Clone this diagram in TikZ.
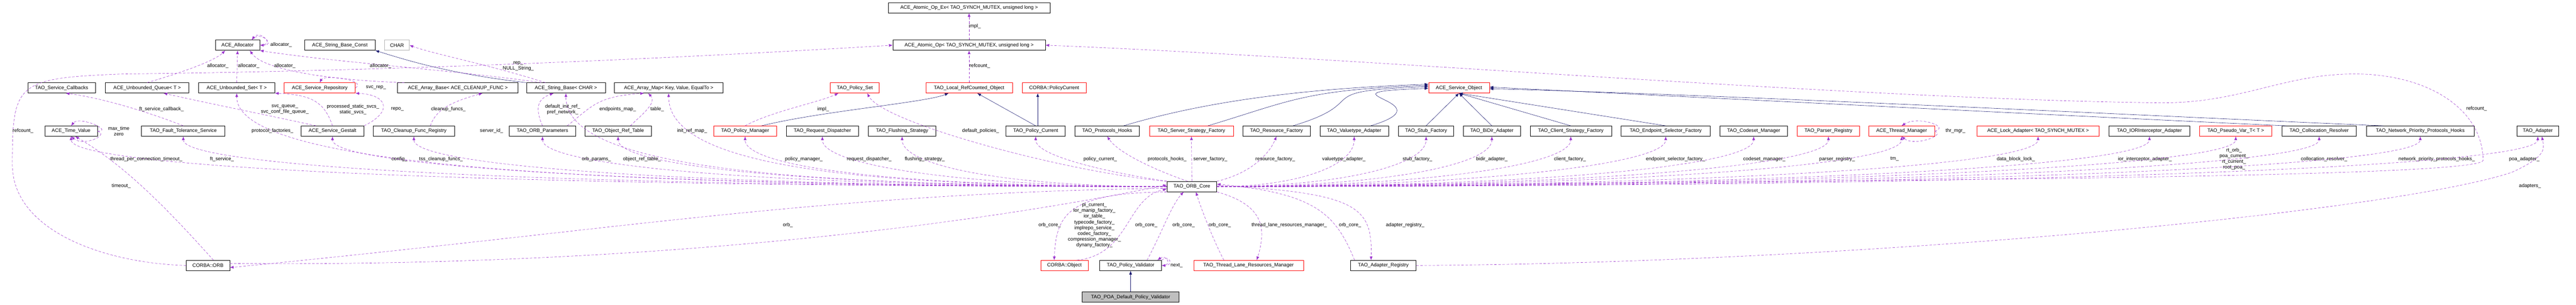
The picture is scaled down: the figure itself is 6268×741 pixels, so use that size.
\documentclass[tikz,border=0pt]{standalone}
\usepackage{fontspec}
\setmainfont{Liberation Sans}
\usetikzlibrary{arrows.meta,calc}
\definecolor{usec}{HTML}{9A32CD}
\definecolor{inh}{HTML}{191970}
\newcommand\bx[6]{\node[box,#1,minimum width=#5pt] (#2) at (#3,#4) {#6};}
\newcommand\lb[4]{\node[lbl] (#1) at (#2,#3) {#4};}
\newcommand\ce[4]{\draw[use] (core.#3) .. controls +(#2,0) and +(0,#4) .. (#1.south);}
\begin{document}
\begin{tikzpicture}[x=1pt,y=-1pt,
 box/.style={draw=black,line width=0.8pt,fill=white,minimum height=25pt,inner sep=1pt,font=\fontsize{12}{14}\selectfont},
 redb/.style={draw=red},
 grayb/.style={draw=black!30},
 lbl/.style={font=\fontsize{12}{14}\selectfont,align=center,inner sep=0pt},
 use/.style={draw=usec,dashed,dash pattern=on 6pt off 4pt,line width=0.7pt,-{Latex[length=9pt,width=7pt]}},
 inhe/.style={draw=inh,line width=0.7pt,-{Latex[length=9pt,width=7pt]}}]
\useasboundingbox (0,0) rectangle (6268,741);
% row 0/1
\bx{}{atomicex}{2358}{19}{394}{ACE\_Atomic\_Op\_Ex< TAO\_SYNCH\_MUTEX, unsigned long >}
\bx{}{alloc}{578}{110}{108}{ACE\_Allocator}
\bx{}{sbconst}{827}{110}{172}{ACE\_String\_Base\_Const}
\bx{grayb}{char}{966}{110}{60}{CHAR}
\bx{}{atomic}{2358}{110}{371}{ACE\_Atomic\_Op< TAO\_SYNCH\_MUTEX, unsigned long >}
% row 2
\bx{}{svccb}{150}{214}{165}{TAO\_Service\_Callbacks}
\bx{}{uqueue}{358}{214}{203}{ACE\_Unbounded\_Queue< T >}
\bx{}{uset}{576}{214}{185}{ACE\_Unbounded\_Set< T >}
\bx{redb}{svcrep}{778}{214}{173}{ACE\_Service\_Repository}
\bx{}{arrbase}{1114}{214}{293}{ACE\_Array\_Base< ACE\_CLEANUP\_FUNC >}
\bx{}{sbchar}{1377}{214}{192}{ACE\_String\_Base< CHAR >}
\bx{}{arrmap}{1627}{214}{264}{ACE\_Array\_Map< Key, Value, EqualTo >}
\bx{redb}{polset}{2080}{214}{119}{TAO\_Policy\_Set}
\bx{redb}{localrc}{2358}{214}{211}{TAO\_Local\_RefCounted\_Object}
\bx{redb}{polcur}{2565}{214}{156}{CORBA::PolicyCurrent}
\bx{redb}{svcobj}{3550}{214}{148}{ACE\_Service\_Object}
% row 3
\bx{}{timeval}{173}{319}{128}{ACE\_Time\_Value}
\bx{}{ftsvc}{446}{319}{203}{TAO\_Fault\_Tolerance\_Service}
\bx{}{gestalt}{809}{319}{153}{ACE\_Service\_Gestalt}
\bx{}{cleanup}{1007}{319}{198}{TAO\_Cleanup\_Func\_Registry}
\bx{}{orbparams}{1320}{319}{161}{TAO\_ORB\_Parameters}
\bx{}{objref}{1504}{319}{161}{TAO\_Object\_Ref\_Table}
\bx{redb}{polmgr}{1813}{319}{152}{TAO\_Policy\_Manager}
\bx{}{reqdisp}{2001}{319}{176}{TAO\_Request\_Dispatcher}
\bx{}{flush}{2195}{319}{164}{TAO\_Flushing\_Strategy}
\bx{}{polcurrent}{2520}{319}{144}{TAO\_Policy\_Current}
\bx{}{prothooks}{2694}{319}{157}{TAO\_Protocols\_Hooks}
\bx{redb}{srvstrat}{2899}{319}{204}{TAO\_Server\_Strategy\_Factory}
\bx{}{resfac}{3106}{319}{164}{TAO\_Resource\_Factory}
\bx{}{valtype}{3295}{319}{167}{TAO\_Valuetype\_Adapter}
\bx{}{stubfac}{3470}{319}{134}{TAO\_Stub\_Factory}
\bx{}{bidir}{3630}{319}{139}{TAO\_BiDir\_Adapter}
\bx{}{clistrat}{3822}{319}{198}{TAO\_Client\_Strategy\_Factory}
\bx{}{endsel}{4053}{319}{217}{TAO\_Endpoint\_Selector\_Factory}
\bx{}{codeset}{4267}{319}{164}{TAO\_Codeset\_Manager}
\bx{redb}{parser}{4449}{319}{152}{TAO\_Parser\_Registry}
\bx{redb}{thrmgr}{4627}{319}{160}{ACE\_Thread\_Manager}
\bx{redb}{lockad}{4959}{319}{296}{ACE\_Lock\_Adapter< TAO\_SYNCH\_MUTEX >}
\bx{}{iorint}{5230}{319}{197}{TAO\_IORInterceptor\_Adapter}
\bx{redb}{pseudo}{5440}{319}{176}{TAO\_Pseudo\_Var\_T< T >}
\bx{}{colloc}{5643}{319}{181}{TAO\_Collocation\_Resolver}
\bx{}{netprio}{5889}{319}{262}{TAO\_Network\_Priority\_Protocols\_Hooks}
\bx{}{adapter}{6175}{319}{101}{TAO\_Adapter}
% core and bottom
\bx{}{core}{2900}{454}{121}{TAO\_ORB\_Core}
\bx{}{orb}{506}{646}{106}{CORBA::ORB}
\bx{redb}{object}{2590}{646}{115}{CORBA::Object}
\bx{}{validator}{2751}{646}{150}{TAO\_Policy\_Validator}
\bx{redb}{tlrm}{3038}{646}{267}{TAO\_Thread\_Lane\_Resources\_Manager}
\bx{}{adreg}{3366}{646}{159}{TAO\_Adapter\_Registry}
\bx{fill=black!25}{poa}{2751}{723}{235}{TAO\_POA\_Default\_Policy\_Validator}
% inheritance
\draw[inhe] (sbchar.north west) .. controls (1100,180) and (1000,150) .. (sbconst.south east);
\draw[inhe] ([xshift=40pt]polmgr.north) .. controls (2000,270) and (2250,250) .. ([xshift=-50pt]localrc.south);
\draw[inhe] (polcurrent.north) -- ([xshift=20pt]localrc.south);
\draw[inhe] ([xshift=5pt]polcurrent.north) -- ([xshift=-40pt]polcur.south);
\foreach \n/\s in {prothooks/205,srvstrat/208,resfac/211,valtype/215} \draw[inhe] ([xshift=40pt]\n.north) .. controls +(200,-60) and +(-300,10) .. ([yshift=-\s+214pt]svcobj.west);
\foreach \n in {stubfac,bidir,clistrat,endsel} \draw[inhe] (\n.north) -- (svcobj.south);
\draw[inhe] ([xshift=-80pt]colloc.north) .. controls (5200,290) and (4200,240) .. ([yshift=2pt]svcobj.east);
\draw[inhe] ([xshift=-90pt]netprio.north) .. controls (5400,290) and (4200,230) .. ([yshift=-2pt]svcobj.east);
\draw[inhe] (poa) -- (validator);
% upper usage edges
\draw[use] (atomic.north) -- (atomicex.south); \lb{l1}{2372}{64}{impl\_}
\draw[use] (localrc.north) -- (atomic.south); \lb{l2}{2384}{161}{refcount\_}
\draw[use] ([xshift=-20pt]alloc.north east) .. controls +(20,-25) and +(40,0) .. (alloc.east);
\draw[use] (alloc.east) .. controls +(40,0) and +(20,-25) .. ([xshift=-20pt]alloc.north east); \lb{l3}{684}{109}{allocator\_}
\draw[use] (uqueue.north) .. controls (430,180) and (520,150) .. ([xshift=-30pt]alloc.south); \lb{l4}{530}{161}{allocator\_}
\draw[use] (uset.north) -- (alloc.south); \lb{l5}{605}{161}{allocator\_}
\draw[use] ([xshift=-130pt]arrbase.north) .. controls (800,195) and (640,170) .. ([xshift=30pt]alloc.south); \lb{l6}{693}{161}{allocator\_}
\draw[use] ([xshift=-60pt]sbchar.north) .. controls (1100,170) and (800,150) .. (alloc.south east); \lb{l7}{926}{161}{allocator\_}
\draw[use] ([xshift=-50pt]sbchar.north) .. controls (1200,160) and (1050,130) .. (char.east); \lb{l8}{1261}{161}{rep\_\\NULL\_String\_}
\draw[use] (svcrep.east) .. controls +(30,-20) and +(10,-20) .. (svcrep.north); \lb{l9}{915}{213}{svc\_rep\_}
\draw[use] ([xshift=-40pt]gestalt.north) .. controls (650,280) and (500,250) .. ([xshift=40pt]uqueue.south); \lb{l10}{693}{266}{svc\_queue\_\\svc\_conf\_file\_queue\_}
\draw[use] ([xshift=0pt]gestalt.north) .. controls (790,250) and (760,230) .. (uset.south east); \lb{l11}{859}{266}{processed\_static\_svcs\_\\static\_svcs\_}
\draw[use] (gestalt.north east) .. controls (960,270) and (940,230) .. (svcrep.south east); \lb{l12}{967}{266}{repo\_}
\draw[use] (ftsvc.north) .. controls (380,280) and (260,240) .. ([xshift=10pt]svccb.south); \lb{l13}{393}{266}{ft\_service\_callback\_}
\draw[use] (timeval.east) .. controls +(40,0) and +(20,-25) .. (timeval.north); \lb{l14}{289}{319}{max\_time\\zero}
\draw[use] (timeval.east) .. controls +(30,10) and +(30,25) .. (timeval.south);
\draw[use] ([xshift=40pt]cleanup.north) .. controls (1060,270) and (1090,250) .. ([xshift=60pt]arrbase.south); \lb{l15}{1091}{266}{cleanup\_funcs\_}
\draw[use] (orbparams.north) .. controls (1300,260) and (1310,240) .. ([xshift=-30pt]sbchar.south); \lb{l16}{1369}{266}{default\_init\_ref\_\\pref\_network\_}
\draw[use] ([xshift=60pt]orbparams.north) .. controls (1440,260) and (1450,235) .. ([xshift=-60pt]arrmap.south); \lb{l17}{1503}{266}{endpoints\_map\_}
\draw[use] ([xshift=30pt]objref.north) .. controls (1560,280) and (1600,250) .. ([xshift=-50pt]arrmap.south); \lb{l18}{1599}{266}{table\_}
\draw[use] (polmgr.north) .. controls (1880,270) and (1990,250) .. ([xshift=-40pt]polset.south); \lb{l19}{2003}{266}{impl\_}
\draw[use] (thrmgr.east) .. controls +(40,-10) and +(40,-25) .. (thrmgr.north); \lb{l20}{4758}{319}{thr\_mgr\_}
\draw[use] (thrmgr.east) .. controls +(30,10) and +(30,25) .. (thrmgr.south);
% CORBA::ORB refcount loop
\draw[use] (orb.west) .. controls (250,640) and (30,560) .. (30,400) .. controls (30,200) and (40,190) .. (300,180) .. controls (1200,170) and (2000,120) .. (atomic.west); \lb{l21}{56}{319}{refcount\_}
% core right loop to atomic
\draw[use] (core.east) .. controls (4000,440) and (6040,440) .. (6042,390) .. controls (6040,260) and (5900,180) .. (5730,180) .. controls (5550,180) and (5450,255) .. (5240,250) .. controls (4500,240) and (3300,140) .. (atomic.east); \lb{l22}{6026}{265}{refcount\_}
% core to row3/row2 (left)
\ce{timeval}{-1800}{west}{70} \lb{c1}{356}{387}{thread\_per\_connection\_timeout\_}
\ce{ftsvc}{-1600}{west}{70} \lb{c2}{540}{387}{ft\_service\_}
\ce{uset}{-1500}{west}{170} \lb{c3}{663}{319}{protocol\_factories\_}
\ce{gestalt}{-1300}{west}{70} \lb{c4}{972}{387}{config\_}
\ce{cleanup}{-1200}{west}{70} \lb{c5}{1073}{387}{tss\_cleanup\_funcs\_}
\ce{sbchar}{-1000}{west}{170} \lb{c6}{1196}{319}{server\_id\_}
\ce{orbparams}{-1000}{west}{70} \lb{c7}{1451}{387}{orb\_params\_}
\ce{objref}{-900}{west}{70} \lb{c8}{1562}{387}{object\_ref\_table\_}
\ce{arrmap}{-800}{west}{170} \lb{c9}{1684}{319}{init\_ref\_map\_}
\ce{polmgr}{-700}{west}{70} \lb{c10}{1956}{387}{policy\_manager\_}
\ce{reqdisp}{-500}{west}{70} \lb{c11}{2115}{387}{request\_dispatcher\_}
\ce{flush}{-400}{west}{70} \lb{c12}{2250}{387}{flushing\_strategy\_}
\draw[use] (core.north west) .. controls (2600,420) and (2150,300) .. ([xshift=30pt]polset.south); \lb{c13}{2386}{319}{default\_policies\_}
\draw[use] (core.north west) .. controls (2700,420) and (2520,380) .. (polcurrent.south); \lb{c14}{2677}{387}{policy\_current\_}
\draw[use] ([xshift=-10pt]core.north) .. controls (2800,410) and (2720,370) .. (prothooks.south); \lb{c15}{2840}{387}{protocols\_hooks\_}
\draw[use] (core.north) -- (srvstrat.south); \lb{c16}{2945}{387}{server\_factory\_}
\draw[use] (core.north east) .. controls (3050,420) and (3090,370) .. (resfac.south); \lb{c17}{3103}{387}{resource\_factory\_}
% right
\ce{valtype}{200}{east}{70} \lb{c18}{3270}{387}{valuetype\_adapter\_}
\ce{stubfac}{300}{east}{70} \lb{c19}{3449}{387}{stub\_factory\_}
\ce{bidir}{400}{east}{70} \lb{c20}{3630}{387}{bidir\_adapter\_}
\ce{clistrat}{500}{east}{70} \lb{c21}{3820}{387}{client\_factory\_}
\ce{endsel}{600}{east}{70} \lb{c22}{4077}{387}{endpoint\_selector\_factory\_}
\ce{codeset}{800}{east}{70} \lb{c23}{4293}{387}{codeset\_manager\_}
\ce{parser}{900}{east}{70} \lb{c24}{4470}{387}{parser\_registry\_}
\ce{thrmgr}{1000}{east}{70} \lb{c25}{4610}{387}{tm\_}
\ce{lockad}{1200}{east}{70} \lb{c26}{4905}{387}{data\_block\_lock\_}
\ce{iorint}{1400}{east}{70} \lb{c27}{5219}{387}{ior\_interceptor\_adapter\_}
\ce{pseudo}{1500}{east}{70} \lb{c28}{5436}{387}{rt\_orb\_\\poa\_current\_\\rt\_current\_\\root\_poa\_}
\ce{colloc}{1700}{east}{70} \lb{c29}{5655}{387}{collocation\_resolver\_}
\ce{netprio}{1900}{east}{70} \lb{c30}{5929}{387}{network\_priority\_protocols\_hooks\_}
\ce{adapter}{2100}{east}{70} \lb{c31}{6142}{387}{poa\_adapter\_}
% bottom
\draw[use] ([xshift=-40pt]orb.north east) .. controls (400,500) and (300,400) .. ([xshift=10pt]timeval.south); \lb{b1}{295}{453}{timeout\_}
\draw[use] ([yshift=-4pt]core.west) .. controls (2000,470) and (1500,560) .. ([yshift=-5pt]orb.east); \lb{b2}{1917}{548}{orb\_}
\draw[use] ([yshift=5pt]orb.east) .. controls (1500,650) and (2300,560) .. ([yshift=4pt]core.west); \lb{b3}{2554}{548}{orb\_core\_}
\draw[use] (core.south west) .. controls (2600,470) and (2570,520) .. ([xshift=-25pt]object.north); \lb{b4}{2663}{548}{pi\_current\_\\ior\_manip\_factory\_\\ior\_table\_\\typecode\_factory\_\\implrepo\_service\_\\codec\_factory\_\\compression\_manager\_\\dynany\_factory\_}
\draw[use] ([xshift=30pt]object.north) .. controls (2750,620) and (2740,480) .. ([yshift=-6pt]core.west); \lb{b5}{2789}{548}{orb\_core\_}
\draw[use] ([xshift=40pt]validator.north) .. controls (2830,560) and (2850,500) .. ([xshift=-20pt]core.south); \lb{b6}{2880}{548}{orb\_core\_}
\draw[use] (validator.north east) .. controls +(20,-15) and +(30,0) .. (validator.east); \lb{b7}{2863}{646}{next\_}
\draw[use] (validator.east) .. controls +(30,0) and +(20,-15) .. ([xshift=-10pt]validator.north east);
\draw[use] ([xshift=-60pt]tlrm.north) .. controls (2950,580) and (2920,500) .. ([xshift=10pt]core.south); \lb{b8}{2968}{548}{orb\_core\_}
\draw[use] (core.south east) .. controls (3080,500) and (3080,560) .. ([xshift=20pt]tlrm.north); \lb{b9}{3137}{548}{thread\_lane\_resources\_manager\_}
\draw[use] ([xshift=-70pt]adreg.north) .. controls (3250,520) and (3200,470) .. ([yshift=6pt]core.east); \lb{b10}{3285}{548}{orb\_core\_}
\draw[use] ([yshift=3pt]core.east) .. controls (3300,470) and (3340,500) .. ([xshift=-30pt]adreg.north); \lb{b11}{3419}{548}{adapter\_registry\_}
\draw[use] (adreg.east) .. controls (4500,640) and (5800,520) .. (6110,420) .. controls (6200,380) and (6190,360) .. ([xshift=10pt]adapter.south); \lb{b12}{6156}{453}{adapters\_}
\end{tikzpicture}
\end{document}
